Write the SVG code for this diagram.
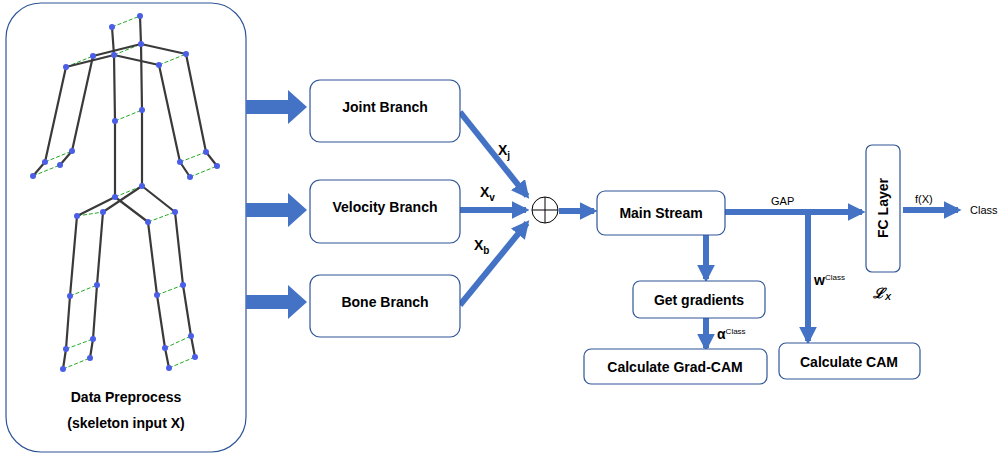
<svg xmlns="http://www.w3.org/2000/svg" width="1006" height="456" viewBox="0 0 1006 456">
<defs>
<style>
.box{fill:#fff;stroke:#2F5597;stroke-width:1.2}
.t{font-family:"Liberation Sans",Arial,sans-serif;font-weight:bold;font-size:14px;fill:#000}
.s{font-family:"Liberation Sans",Arial,sans-serif;font-size:11px;fill:#000}
.ln{stroke:#4472C4;stroke-width:6;fill:none}
.bone{stroke:#3a3a3a;stroke-width:2.2;fill:none;stroke-linejoin:round}
.g{stroke:#22aa22;stroke-width:1;stroke-dasharray:4 2}
.j{fill:#4a5ee8}
</style>
<marker id="ah" viewBox="0 0 10 10" refX="8" refY="5" markerWidth="3" markerHeight="3" orient="auto" markerUnits="strokeWidth"><path d="M0,0L10,5L0,10z" fill="#4472C4"/></marker>
</defs>
<rect x="6" y="3" width="240" height="449" rx="35" class="box"/>
<g id="skeleton">
<g class="g">
<line x1="112" y1="27" x2="140" y2="16"/><line x1="114" y1="55" x2="141" y2="44"/>
<line x1="66" y1="67" x2="93" y2="56"/><line x1="159" y1="65" x2="186" y2="54"/>
<line x1="115" y1="121" x2="142" y2="110"/><line x1="45" y1="162" x2="72" y2="151"/>
<line x1="33" y1="176" x2="60" y2="165"/><line x1="180" y1="162" x2="206" y2="152"/>
<line x1="190" y1="177" x2="217" y2="166"/><line x1="115" y1="197" x2="142" y2="186"/>
<line x1="77" y1="216" x2="103" y2="212"/><line x1="148" y1="222" x2="175" y2="212"/>
<line x1="70" y1="296" x2="97" y2="285"/><line x1="157" y1="295" x2="183" y2="285"/>
<line x1="66" y1="349" x2="93" y2="339"/><line x1="165" y1="348" x2="191" y2="336"/>
<line x1="63" y1="369" x2="90" y2="358"/><line x1="169" y1="368" x2="195" y2="357"/>
</g>
<g class="bone" stroke="#555">
<polyline points="140,16 141,44 142,110 142,186"/>
<polyline points="93,56 141,44 186,54"/>
<polyline points="60,165 72,151 93,56"/><polyline points="217,166 206,152 186,54"/>
<polyline points="90,358 93,339 97,285 103,212 142,186 175,212 183,285 191,336 195,357"/>
</g>
<g class="bone">
<polyline points="112,27 114,55 115,121 115,197"/>
<polyline points="66,67 114,55 159,65"/>
<polyline points="33,176 45,162 66,67"/><polyline points="190,177 180,162 159,65"/>
<polyline points="63,369 66,349 70,296 77,216 115,197 148,222 157,295 165,348 169,368"/>
</g>
<g class="j">
<circle cx="112" cy="27" r="3"/><circle cx="140" cy="16" r="3"/><circle cx="114" cy="55" r="3"/><circle cx="141" cy="44" r="3"/>
<circle cx="66" cy="67" r="3"/><circle cx="93" cy="56" r="3"/><circle cx="159" cy="65" r="3"/><circle cx="186" cy="54" r="3"/>
<circle cx="115" cy="121" r="3"/><circle cx="142" cy="110" r="3"/><circle cx="45" cy="162" r="3"/><circle cx="72" cy="151" r="3"/>
<circle cx="33" cy="176" r="3"/><circle cx="60" cy="165" r="3"/><circle cx="180" cy="162" r="3"/><circle cx="206" cy="152" r="3"/>
<circle cx="190" cy="177" r="3"/><circle cx="217" cy="166" r="3"/><circle cx="115" cy="197" r="3"/><circle cx="142" cy="186" r="3"/>
<circle cx="77" cy="216" r="3"/><circle cx="103" cy="212" r="3"/><circle cx="148" cy="222" r="3"/><circle cx="175" cy="212" r="3"/>
<circle cx="70" cy="296" r="3"/><circle cx="97" cy="285" r="3"/><circle cx="157" cy="295" r="3"/><circle cx="183" cy="285" r="3"/>
<circle cx="66" cy="349" r="3"/><circle cx="93" cy="339" r="3"/><circle cx="165" cy="348" r="3"/><circle cx="191" cy="336" r="3"/>
<circle cx="63" cy="369" r="3"/><circle cx="90" cy="358" r="3"/><circle cx="169" cy="368" r="3"/><circle cx="195" cy="357" r="3"/>
</g>
</g>
<text class="t" x="126" y="402" text-anchor="middle">Data Preprocess</text>
<text class="t" x="126" y="428" text-anchor="middle">(skeleton input X)</text>
<g id="connectors">
<path d="M246,100h42v-10l19,17l-19,17v-10h-42z" fill="#4472C4"/>
<path d="M246,203h42v-10l19,17l-19,17v-10h-42z" fill="#4472C4"/>
<path d="M246,295h42v-10l19,17l-19,17v-10h-42z" fill="#4472C4"/>
<line class="ln" x1="460" y1="112" x2="527" y2="196" marker-end="url(#ah)"/>
<line class="ln" x1="460" y1="210" x2="526" y2="210" marker-end="url(#ah)"/>
<line class="ln" x1="460" y1="305" x2="527" y2="223" marker-end="url(#ah)"/>
<line class="ln" x1="559" y1="211" x2="594" y2="211" marker-end="url(#ah)"/>
<line class="ln" x1="725" y1="212" x2="862" y2="212" marker-end="url(#ah)"/>
<line class="ln" x1="706" y1="235" x2="706" y2="279" marker-end="url(#ah)"/>
<line class="ln" x1="706" y1="318" x2="706" y2="348" marker-end="url(#ah)"/>
<line class="ln" x1="808" y1="215" x2="808" y2="341" marker-end="url(#ah)"/>
<line class="ln" x1="903" y1="210" x2="958" y2="210" marker-end="url(#ah)"/>
</g>
<g id="labels">
<text class="t" x="498" y="155">X<tspan font-size="10" dy="4">j</tspan></text>
<text class="t" x="480" y="197">X<tspan font-size="10" dy="4">v</tspan></text>
<text class="t" x="474" y="250">X<tspan font-size="10" dy="4">b</tspan></text>
<text class="s" x="771" y="205">GAP</text>
<text class="s" x="915" y="203">f(X)</text>
<text class="s" x="970" y="214">Class</text>
<text class="t" x="814" y="285" font-size="12">w<tspan font-size="8" font-weight="normal" dy="-5">Class</tspan></text>
<text class="t" x="717" y="339" font-size="12">α<tspan font-size="8" font-weight="normal" dy="-5">Class</tspan></text>
<text class="t" x="873" y="298" font-style="italic" font-size="13">ℒ<tspan font-size="9" dy="2">X</tspan></text>
</g>
<g id="sum"><circle cx="545" cy="210" r="13" fill="#fff" stroke="#000" stroke-width="1"/><path d="M532,210h26M545,197v26" stroke="#000" stroke-width="1"/></g>
<g id="joint"><rect class="box" x="310" y="80" width="150" height="62" rx="10"/><text class="t" x="385" y="112" text-anchor="middle">Joint Branch</text></g>
<g id="velocity"><rect class="box" x="310" y="180" width="150" height="63" rx="10"/><text class="t" x="385" y="212" text-anchor="middle">Velocity Branch</text></g>
<g id="bone"><rect class="box" x="310" y="275" width="150" height="62" rx="10"/><text class="t" x="385" y="307" text-anchor="middle">Bone Branch</text></g>
<g id="main"><rect class="box" x="597" y="191" width="128" height="44" rx="8"/><text class="t" x="661" y="218" text-anchor="middle">Main Stream</text></g>
<g id="fc"><rect class="box" x="866" y="145" width="34" height="127" rx="6"/><text class="t" x="0" y="0" text-anchor="middle" transform="translate(888,208) rotate(-90)" font-size="15">FC  Layer</text></g>
<g id="grad"><rect class="box" x="633" y="281" width="132" height="37" rx="7"/><text class="t" x="699" y="305" text-anchor="middle">Get gradients</text></g>
<g id="gradcam"><rect class="box" x="584" y="349" width="183" height="35" rx="7"/><text class="t" x="675" y="372" text-anchor="middle">Calculate Grad-CAM</text></g>
<g id="cam"><rect class="box" x="779" y="343" width="141" height="36" rx="7"/><text class="t" x="849" y="367" text-anchor="middle">Calculate CAM</text></g>
</svg>
